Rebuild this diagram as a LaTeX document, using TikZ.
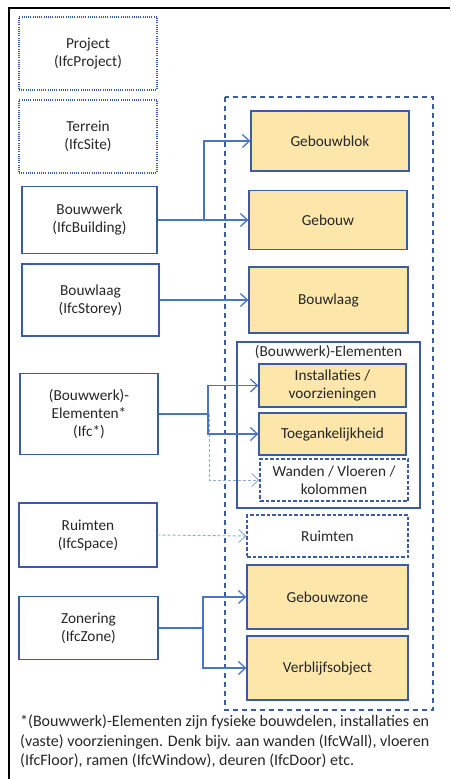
\documentclass[tikz,border=0pt]{standalone}
\usepackage{fontspec}
\setmainfont{Carlito}
\usetikzlibrary{arrows.meta,calc}
\definecolor{boxblue}{HTML}{3B5CA3}
\definecolor{linkblue}{HTML}{4A74C8}
\definecolor{lightlink}{HTML}{8EA9DB}
\definecolor{boxfill}{HTML}{FCE6AA}
\definecolor{txt}{HTML}{262626}
\tikzset{
  boxtext/.style={align=center, text=txt, font=\fontsize{15.3}{18}\selectfont, inner sep=0pt},
  lbox/.style={boxtext, draw=boxblue, line width=1.3pt},
  dotbox/.style={boxtext, draw=boxblue, line width=1.2pt, dash pattern=on 1pt off 1.2pt},
  ybox/.style={boxtext, draw=boxblue, line width=1.3pt, fill=boxfill},
  dbox/.style={boxtext, draw=boxblue, line width=1.3pt, dash pattern=on 3.5pt off 2pt},
  conn/.style={draw=linkblue, line width=1.5pt, -{Straight Barb[length=7pt,width=13pt,line width=1.3pt]}},
  connplain/.style={draw=linkblue, line width=1.5pt},
  dconn/.style={draw=lightlink, line width=0.9pt, dash pattern=on 3pt off 2pt, -{Straight Barb[length=7pt,width=13pt,line width=0.9pt]}},
}
\begin{document}
\begin{tikzpicture}[x=1pt,y=-1pt]
\useasboundingbox (0,0) rectangle (450,779);
% frame
\draw[black, line width=1.8pt] (450,8) -- (9,8) -- (9,779);

% left column
\node[dotbox, minimum width=138pt, minimum height=73pt] (proj) at (88,53.5) {Project\\(IfcProject)};
\node[dotbox, minimum width=138pt, minimum height=73pt] (site) at (88,136.5) {Terrein\\(IfcSite)};
\node[lbox, minimum width=135pt, minimum height=67pt] (bldg) at (89.5,220) {Bouwwerk\\(IfcBuilding)};
\node[lbox, minimum width=137pt, minimum height=72pt] (stor) at (90.5,300) {Bouwlaag\\(IfcStorey)};
\node[lbox, minimum width=138pt, minimum height=81pt] (elem) at (89,414) {(Bouwwerk)-\\Elementen*\\(Ifc*)};
\node[lbox, minimum width=138pt, minimum height=64pt] (space) at (88,535) {Ruimten\\(IfcSpace)};
\node[lbox, minimum width=139pt, minimum height=63pt] (zone) at (88.5,628) {Zonering\\(IfcZone)};

% right container
\draw[boxblue, line width=1.3pt, dash pattern=on 5pt off 4pt] (225,97) rectangle (433,710);
\node[ybox, minimum width=158pt, minimum height=60pt] (gblok) at (330,141) {Gebouwblok};
\node[ybox, minimum width=158pt, minimum height=59pt] (gebouw) at (328,220) {Gebouw};
\node[ybox, minimum width=159pt, minimum height=66pt] (blaag) at (328.5,300) {Bouwlaag};
\draw[boxblue, line width=1.3pt] (237,342) rectangle (420,508);
\node[boxtext] (eltitle) at (328.5,352) {(Bouwwerk)-Elementen};
\node[ybox, minimum width=147pt, minimum height=43pt] (inst) at (332.5,385.5) {Installaties /\\voorzieningen};
\node[ybox, minimum width=147pt, minimum height=42pt] (toeg) at (332.5,434) {Toegankelijkheid};
\node[dbox, minimum width=148pt, minimum height=42pt] (wand) at (334,480) {Wanden / Vloeren /\\kolommen};
\node[dbox, minimum width=161pt, minimum height=42pt] (rspace) at (327.5,536) {Ruimten};
\node[ybox, minimum width=161pt, minimum height=64pt] (gzone) at (327.5,597) {Gebouwzone};
\node[ybox, minimum width=161pt, minimum height=64pt] (verbl) at (327.5,668) {Verblijfsobject};

% connectors
\coordinate (b1) at (204,220);
\draw[conn] (bldg.east) -- (gebouw.west);
\draw[conn] (b1) |- (gblok.west);
\draw[conn] (stor.east) -- (blaag.west);
\coordinate (e1) at (208,414);
\coordinate (e2) at (209,414);
\draw[dconn] (e2) |- (wand.west);
\draw[connplain] (elem.east) -- (e1);
\draw[conn] (e1) |- (inst.west);
\draw[conn] (e1) |- (toeg.west);
\draw[dconn] (space.east) -- (rspace.west);
\coordinate (z1) at (203,628);
\draw[connplain] (zone.east) -- (z1);
\draw[conn] (z1) |- (gzone.west);
\draw[conn] (z1) |- (verbl.west);

% footnote
\node[anchor=north west, align=left, text=txt, font=\fontsize{16}{19.5}\selectfont, inner sep=0pt] (note) at (20,715) {*(Bouwwerk)-Elementen zijn fysieke bouwdelen, installaties en\\(vaste) voorzieningen. Denk bijv. aan wanden (IfcWall), vloeren\\(IfcFloor), ramen (IfcWindow), deuren (IfcDoor) etc.};
\end{tikzpicture}
\end{document}
